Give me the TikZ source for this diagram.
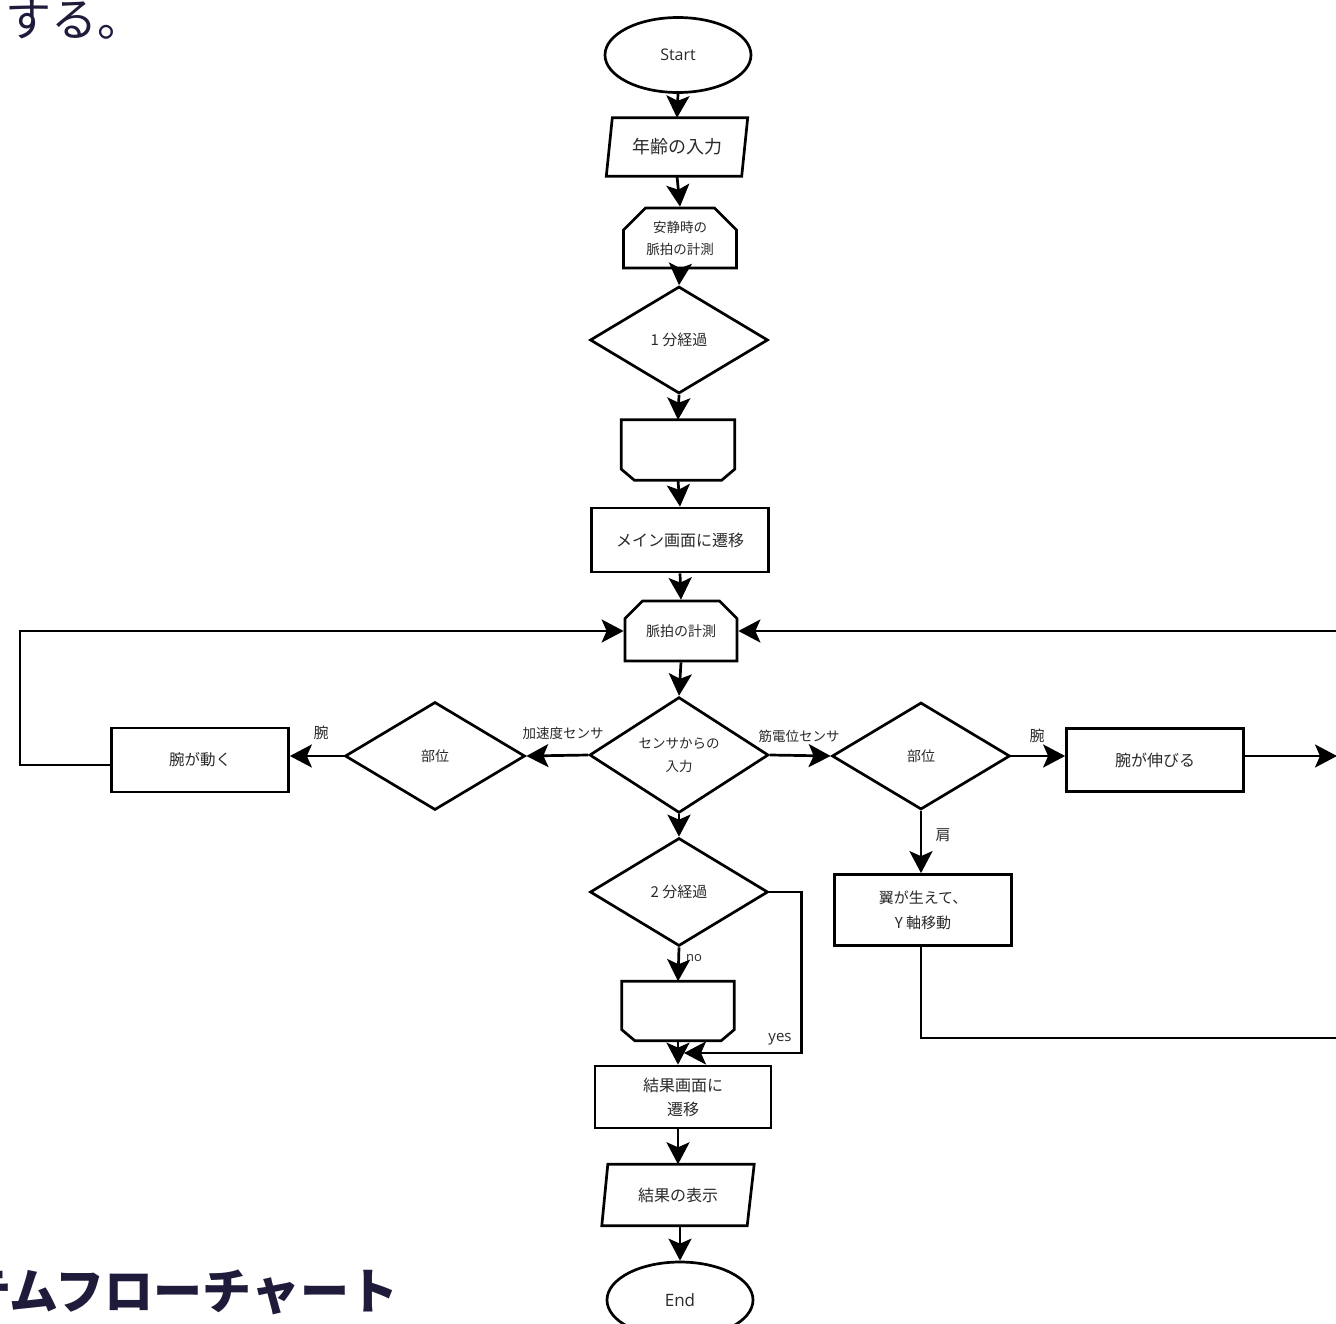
\documentclass[tikz,border=0pt]{standalone}
\usepackage{fontspec}
\setmainfont{Noto Sans CJK JP}
\newfontfamily\lat{Open Sans}
\usetikzlibrary{shapes.geometric,shapes.misc,arrows.meta,calc}
\definecolor{txt}{HTML}{2A2A2A}
\definecolor{heading}{HTML}{1F1C3B}
\newcommand{\fs}[2]{\fontsize{#1}{#2}\selectfont}

\begin{document}
\begin{tikzpicture}[x=1pt,y=-1pt,
  every node/.style={inner sep=0pt,text=txt},
  ln/.style={line width=2.7pt,line join=miter},
  arr/.style={ln,-{Stealth[length=22pt,width=23pt,inset=5pt]}},
  term/.style={ellipse,draw,ln,minimum width=146pt,minimum height=75pt,font=\lat\fs{16}{18}},
  proc/.style={rectangle,draw,ln,minimum width=177pt,minimum height=63pt,align=center},
  loopbeg/.style={chamfered rectangle,chamfered rectangle corners={north west,north east},
    chamfered rectangle xsep=11pt,chamfered rectangle ysep=11pt,draw,ln,
    minimum width=113pt,minimum height=60pt,align=center},
  loopend/.style={rectangle,draw=none,minimum width=113pt,minimum height=60pt},
  dec/.style={diamond,draw,ln,minimum width=178pt,minimum height=107pt,align=center},
  io/.style={rectangle,draw=none,minimum width=141pt,minimum height=58pt},
  lbl/.style={font=\fs{14}{16}},
]
\fill[white] (0,0) rectangle (1336,1324);
\useasboundingbox (0,0) rectangle (1336,1324);

% page fragments around the chart
\node[anchor=west,text=heading,font=\fs{46}{50}] (tail) at (5,20) {する。};
\node[anchor=west,text=heading,font=\bfseries\fs{49}{53}] (title) at (-38,1292) {テムフローチャート};

% main column
\node[term] (start) at (678,55) {Start};
\node[io,font=\fs{18}{20}] (age) at (677,147) {年齢の入力};
\draw[ln] ([xshift=6pt]age.north west) -- (age.north east) -- ([xshift=-6pt]age.south east) -- (age.south west) -- cycle;
\node[loopbeg,font=\fs{13.5}{22}] (rest) at (680,238) {安静時の\\脈拍の計測};
\node[dec,font=\fs{15}{17}] (d1) at (679,340) {1 分経過};
\node[loopend] (lend1) at (678,450) {};
\draw[ln] (lend1.north west) -- (lend1.north east) -- ([yshift=11pt]lend1.south east)
  -- ([xshift=-13pt]lend1.south east) -- ([xshift=13pt]lend1.south west)
  -- ([yshift=11pt]lend1.south west) -- cycle;
\node[proc,minimum height=64pt,font=\fs{16}{18}] (main) at (680,540) {メイン画面に遷移};
\node[loopbeg,minimum width=112pt,font=\fs{14}{16}] (pulse) at (681,631) {脈拍の計測};
\node[dec,minimum width=179pt,minimum height=106pt,font=\fs{13.5}{23}] (sens) at (679,755) {センサからの\\入力};

% acceleration sensor branch
\node[dec,minimum width=180pt,minimum height=108pt,font=\fs{14}{16}] (partL) at (435,756) {部位};
\node[proc,minimum height=64pt,font=\fs{15.5}{17}] (armL) at (200,760) {腕が動く};

% EMG sensor branch
\node[dec,font=\fs{14}{16}] (partR) at (921,756) {部位};
\node[proc,font=\fs{16}{18}] (armR) at (1155,760) {腕が伸びる};
\node[proc,minimum height=71pt,font=\fs{15}{25}] (wing) at (923,910) {翼が生えて、\\Y 軸移動};

% timing and results
\node[dec,minimum height=108pt,font=\fs{15}{17}] (d2) at (679,892) {2 分経過};
\node[loopend,minimum width=112pt,minimum height=59pt] (lend2) at (678,1011) {};
\draw[ln] (lend2.north west) -- (lend2.north east) -- ([yshift=11pt]lend2.south east)
  -- ([xshift=-13pt]lend2.south east) -- ([xshift=13pt]lend2.south west)
  -- ([yshift=11pt]lend2.south west) -- cycle;
\node[proc,minimum width=176pt,minimum height=62pt,font=\fs{16}{24}] (res) at (683,1097) {結果画面に\\遷移};
\node[io,minimum width=152pt,minimum height=61pt,font=\fs{16}{18}] (show) at (678,1195) {結果の表示};
\draw[ln] ([xshift=6pt]show.north west) -- (show.north east) -- ([xshift=-7pt]show.south east) -- (show.south west) -- cycle;
\node[term,minimum height=76pt,font=\lat\fs{17}{19}] (end) at (680,1300) {End};

% free ends of connectors
\coordinate (leftloop) at (20,765);
\coordinate (topin) at (1340,630);
\coordinate (armout) at (1337,756);
\coordinate (wingout) at (1340,1038);
\coordinate (yesend) at (684,1053);

% connectors: main column
\draw[arr] (start.south) -- (age.north);
\draw[arr] (age.south) -- (rest.north);
\draw[arr] (rest.south) -- (d1.north);
\draw[arr] (d1.south) -- (lend1.north);
\draw[arr] (lend1.south) -- (main.north);
\draw[arr] (main.south) -- (pulse.north);
\draw[arr] (pulse.south) -- (sens.north);

% connectors: left branch
\draw[arr] (sens.west) -- (partL.east);
\draw[arr] (partL.west) -- (partL.west -| armL.east);
\draw[arr] ($(armL.west)+(0,5)$) -- (leftloop) |- (pulse.west);

% connectors: right branch
\draw[arr] (sens.east) -- (partR.west);
\draw[arr] (partR.east) -- (partR.east -| armR.west);
\draw[arr] (armR.east |- armout) -- (armout);
\draw[arr] (topin |- pulse.east) -- (pulse.east);
\draw[arr] (partR.south) -- (partR.south |- wing.north);
\draw[ln] (wing.south -| partR.south) |- (wingout);

% connectors: timing and results
\draw[arr] (sens.south) -- (d2.north);
\draw[arr] (d2.south) -- (lend2.north);
\draw[arr] (lend2.south) -- (lend2.south |- res.north);
\draw[arr] (d2.east) -- ++(32,0) |- (yesend);
\draw[arr] (res.south -| lend2.south) -- (show.north -| lend2.south);
\draw[arr] (show.south -| end.north) -- (end.north);

% branch labels
\node[lbl,font=\fs{13.5}{15}] (lacc) at (563,733) {加速度センサ};
\node[lbl,font=\fs{15}{17}] (larmL) at (321,733) {腕};
\node[lbl,font=\fs{13.5}{15}] (lemg) at (799,736) {筋電位センサ};
\node[lbl,font=\fs{15}{17}] (larmR) at (1037,736) {腕};
\node[lbl,font=\fs{15}{17}] (lsh) at (943,835) {肩};
\node[font=\lat\fs{13}{15}] (lno) at (694,958) {no};
\node[font=\lat\fs{15}{17}] (lyes) at (780,1039) {yes};
\end{tikzpicture}
\end{document}
